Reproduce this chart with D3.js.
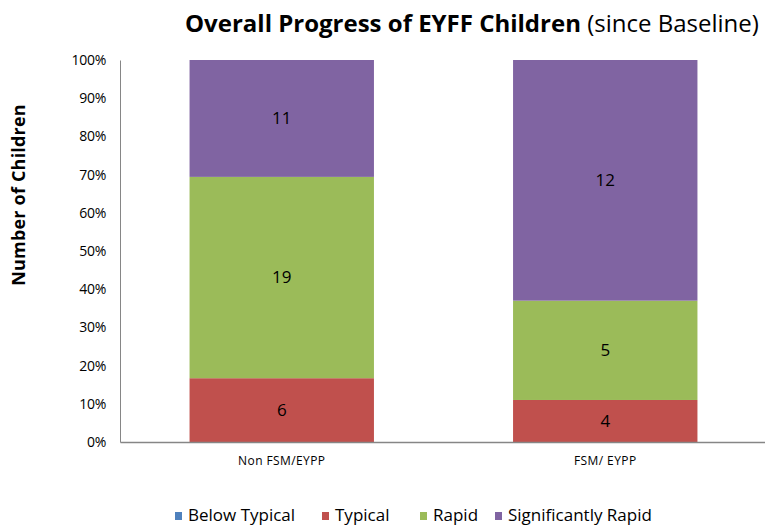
<!DOCTYPE html>
<html>
<head>
<meta charset="utf-8">
<script src="https://cdn.jsdelivr.net/npm/d3@7"></script>
<style>
    body { margin: 0; background: #fff; }
    text { font-family: "Open Sans", "Noto Sans", sans-serif; fill: #000; }
</style>
</head>
<body>
<svg id="chart"></svg>
<script>
// categories and series
const categories = ["Non FSM/EYPP", "FSM/ EYPP"];
const seriesNames = ["Below Typical", "Typical", "Rapid", "Significantly Rapid"];
const seriesColors = ["#4F81BD", "#C0504D", "#9BBB59", "#8064A2"];

// share of each bar (percent)
const belowTypical = [0, 0];
const typical = [16.7, 11.0];
const rapid = [52.7, 26.0];
const sigRapid = [30.6, 63.0];

// data labels printed inside the segments (number of children)
const belowTypicalCount = [null, null];
const typicalCount = [6, 4];
const rapidCount = [19, 5];
const sigRapidCount = [11, 12];

const yTicks = [0, 10, 20, 30, 40, 50, 60, 70, 80, 90, 100];

const width = 765, height = 526;
const margin = {top: 60, right: -2, bottom: 84, left: 120};

const svg = d3.select("#chart").attr("width", width).attr("height", height);

// build rows for d3.stack
const shares = [belowTypical, typical, rapid, sigRapid];
const counts = [belowTypicalCount, typicalCount, rapidCount, sigRapidCount];
const rows = categories.map((c, i) => {
    let row = {category: c};
    seriesNames.forEach((s, j) => row[s] = shares[j][i]);
    return row;
});
const stacked = d3.stack().keys(seriesNames)(rows);

const x = d3.scaleBand()
    .domain(categories)
    .range([margin.left, width - margin.right])
    .paddingInner(0.43)
    .paddingOuter(0.215);
const y = d3.scaleLinear().domain([0, 100]).range([height - margin.bottom, margin.top]);

// bars
const layers = svg.append("g").selectAll("g")
    .data(stacked)
    .join("g")
    .attr("fill", (d, i) => seriesColors[i]);

layers.selectAll("rect")
    .data(d => d)
    .join("rect")
    .attr("x", d => x(d.data.category))
    .attr("y", d => y(d[1]))
    .attr("width", x.bandwidth())
    .attr("height", d => y(d[0]) - y(d[1]));

// segment labels
stacked.forEach((layer, j) => {
    svg.append("g").selectAll("text")
        .data(layer.filter((d, i) => counts[j][i] !== null))
        .join("text")
        .attr("x", d => x(d.data.category) + x.bandwidth() / 2)
        .attr("y", d => y((d[0] + d[1]) / 2))
        .attr("dy", "0.35em")
        .attr("text-anchor", "middle")
        .style("font-size", "17px")
        .text(d => counts[j][categories.indexOf(d.data.category)]);
});

// y axis
const yAxis = d3.axisLeft(y).tickValues(yTicks).tickSize(0).tickPadding(14).tickFormat(d => d + "%");
svg.append("g")
    .attr("transform", `translate(${margin.left},0)`)
    .call(yAxis)
    .call(g => g.select(".domain").attr("stroke", "#868686"))
    .call(g => g.selectAll(".tick text").style("font-size", "14px").style("font-family", "'Open Sans', sans-serif").attr("letter-spacing", "-0.3px"));

// x axis
const xAxis = d3.axisBottom(x).tickSize(0).tickPadding(14);
svg.append("g")
    .attr("transform", `translate(0,${height - margin.bottom})`)
    .call(xAxis)
    .call(g => g.select(".domain").attr("stroke", "#868686").attr("stroke-width", 1.5))
    .call(g => g.selectAll(".tick text").style("font-size", "12px").style("font-family", "'Open Sans', sans-serif").attr("letter-spacing", "0.4px"));

// title
const title = svg.append("text")
    .attr("x", 185)
    .attr("y", 32)
    .style("font-size", "24px");
title.append("tspan").attr("font-weight", "bold").text("Overall Progress of EYFF Children");
title.append("tspan").text(" (since Baseline)");

// y axis title
svg.append("text")
    .attr("transform", `translate(25,195) rotate(-90)`)
    .attr("text-anchor", "middle")
    .attr("font-weight", "bold")
    .style("font-size", "18px")
    .attr("letter-spacing", "0.2px")
    .text("Number of  Children");

// legend
const legendX = [175, 322, 420, 495];
const legend = svg.append("g").selectAll("g")
    .data(seriesNames)
    .join("g")
    .attr("transform", (d, i) => `translate(${legendX[i]},512)`);
legend.append("rect")
    .attr("width", 7).attr("height", 8)
    .attr("fill", (d, i) => seriesColors[i]);
legend.append("text")
    .attr("x", 13)
    .attr("y", 9)
    .style("font-size", "17px")
    .text(d => d);
</script>
</body>
</html>
